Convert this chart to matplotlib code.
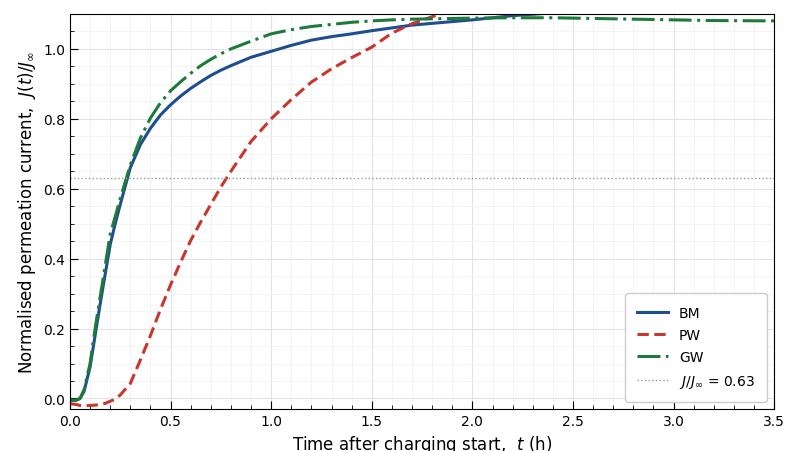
import matplotlib.pyplot as plt
import matplotlib.ticker as mticker

# time after charging start (h)
t = [0, 0.03, 0.05, 0.07, 0.1, 0.125, 0.15, 0.175, 0.2, 0.225, 0.25, 0.3, 0.35,
     0.4, 0.45, 0.5, 0.55, 0.6, 0.65, 0.7, 0.75, 0.8, 0.9, 1.0, 1.1, 1.2, 1.3, 1.4, 1.5,
     1.6, 1.7, 1.8, 1.9, 2.0, 2.2, 2.4, 2.6, 2.8, 3.0, 3.2, 3.5]

bm = [-0.005, -0.005, 0.0, 0.02, 0.09, 0.18, 0.27, 0.355, 0.44, 0.50, 0.555, 0.66, 0.726,
      0.773, 0.811, 0.84, 0.865, 0.887, 0.906, 0.924, 0.939, 0.952, 0.976, 0.993, 1.01, 1.025, 1.035, 1.043, 1.052,
      1.06, 1.068, 1.073, 1.078, 1.083, 1.095, 1.103, 1.11, 1.115, 1.12, 1.12, 1.125]

pw = [-0.015, -0.017, -0.02, -0.021, -0.02, -0.019, -0.017, -0.014, -0.008, -0.002, 0.01, 0.043, 0.11,
      0.18, 0.255, 0.325, 0.39, 0.452, 0.505, 0.555, 0.605, 0.65, 0.735, 0.80, 0.855, 0.905, 0.943, 0.975, 1.005,
      1.045, 1.072, 1.092, 1.11, 1.125, 1.15, 1.17, 1.18, 1.19, 1.195, 1.2, 1.2]

gw = [-0.005, -0.005, 0.0, 0.025, 0.1, 0.2, 0.29, 0.38, 0.47, 0.52, 0.572, 0.668, 0.745,
      0.802, 0.846, 0.88, 0.906, 0.93, 0.952, 0.97, 0.986, 1.0, 1.022, 1.043, 1.055, 1.064, 1.07, 1.076, 1.08,
      1.083, 1.085, 1.086, 1.087, 1.088, 1.089, 1.089, 1.087, 1.085, 1.083, 1.081, 1.08]

threshold = 0.63

fig = plt.figure(figsize=(7.86, 4.52), dpi=100)
ax = fig.add_axes([0.089, 0.093, 0.896, 0.874])

ax.plot(t, bm, color='#1f4e8f', lw=2.2, label='BM')
ax.plot(t, pw, color='#c9372c', lw=2.2, ls=(0, (3.7, 1.8)), label='PW')
ax.plot(t, gw, color='#1e7a3a', lw=2.2, ls=(0, (7.5, 1.8, 1, 1.8)), label='GW')
ax.axhline(threshold, color='#999999', lw=1.0, ls=':', label=r'$J/J_\infty$ = 0.63')

ax.set_xlim(0, 3.5)
ax.set_ylim(-0.03, 1.10)
ax.xaxis.set_major_locator(mticker.MultipleLocator(0.5))
ax.xaxis.set_minor_locator(mticker.MultipleLocator(0.1))
ax.yaxis.set_major_locator(mticker.MultipleLocator(0.2))
ax.yaxis.set_minor_locator(mticker.MultipleLocator(0.05))
ax.tick_params(which='both', direction='in', labelsize=10)
ax.tick_params(which='major', length=6)
ax.tick_params(which='minor', length=3)
ax.grid(True, which='major', color='#e3e3e3', lw=0.8)
ax.grid(True, which='minor', color='#f2f2f2', lw=0.6)
ax.set_axisbelow(True)

ax.set_xlabel(r'Time after charging start,  $t$ (h)', fontsize=12)
ax.set_ylabel(r'Normalised permeation current,  $J(t)/J_\infty$', fontsize=12)

leg = ax.legend(loc='lower right', fontsize=10, framealpha=1, edgecolor='#cccccc',
                borderpad=0.9, labelspacing=0.6, handlelength=2.2)

fig.savefig('out.png', dpi=100)
